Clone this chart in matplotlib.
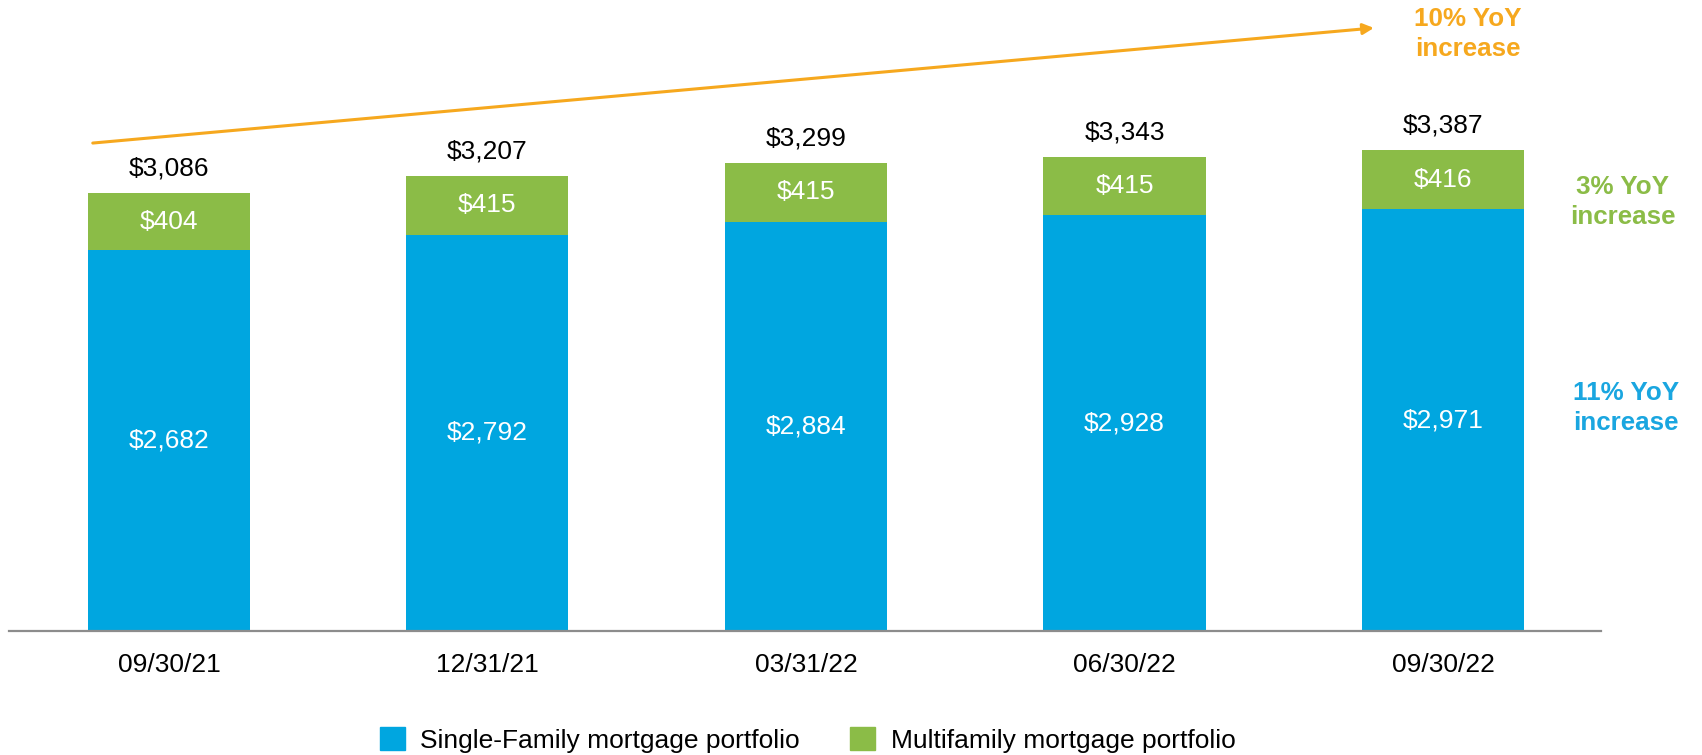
import matplotlib
matplotlib.use("Agg")
import matplotlib.pyplot as plt
import numpy as np
from matplotlib.patches import Patch

plt.rcParams['font.family'] = ['Liberation Sans', 'DejaVu Sans']

dates = ["09/30/21", "12/31/21", "03/31/22", "06/30/22", "09/30/22"]
single_family = [2682, 2792, 2884, 2928, 2971]
multifamily = [404, 415, 415, 415, 416]
totals = [3086, 3207, 3299, 3343, 3387]

blue = '#00A6E0'
green = '#8BBC47'
orange = '#F6A81E'

fig = plt.figure(figsize=(17.02, 7.55), dpi=100)
ax = fig.add_axes([9 / 1702, 124 / 755, (1601 - 9) / 1702, 631 / 755])

x = np.arange(len(dates))
w = 0.509
ax.bar(x, single_family, width=w, color=blue, zorder=2)
ax.bar(x, multifamily, width=w, bottom=single_family, color=green, zorder=2)

for i in range(len(dates)):
    ax.text(x[i], single_family[i] / 2, "${:,}".format(single_family[i]),
            ha='center', va='center', color='white', fontsize=19)
    ax.text(x[i], single_family[i] + multifamily[i] / 2, "${:,}".format(multifamily[i]),
            ha='center', va='center', color='white', fontsize=19)
    ax.annotate("${:,}".format(totals[i]), (x[i], totals[i]), xytext=(0, 17.5),
                textcoords='offset points', ha='center', va='center',
                color='black', fontsize=19)

ax.set_xlim(-0.502, 4.496)
ax.set_ylim(0, 4446)
for s in ['top', 'right', 'left']:
    ax.spines[s].set_visible(False)
ax.spines['bottom'].set_color('#8c8c8c')
ax.spines['bottom'].set_linewidth(1.6)
ax.set_yticks([])
ax.set_xticks(x)
ax.set_xticklabels(dates, fontsize=19)
ax.tick_params(axis='x', length=0, pad=16)

# growth arrow
ax.annotate("", xy=(3.783, 4249), xytext=(-0.239, 3438),
            arrowprops=dict(arrowstyle='-|>', color=orange, lw=2.2,
                            mutation_scale=16, shrinkA=0, shrinkB=0),
            annotation_clip=False)

fig.text(1468 / 1702, 1 - 34 / 755, "10% YoY\nincrease", ha='center', va='center',
         color=orange, fontsize=18.7, fontweight='bold', linespacing=1.3)
fig.text(1623 / 1702, 1 - 202 / 755, "3% YoY\nincrease", ha='center', va='center',
         color=green, fontsize=18.7, fontweight='bold', linespacing=1.3)
fig.text(1626 / 1702, 1 - 408 / 755, "11% YoY\nincrease", ha='center', va='center',
         color='#1AA6E0', fontsize=18.7, fontweight='bold', linespacing=1.3)

handles = [Patch(color=blue, label="Single-Family mortgage portfolio"),
           Patch(color=green, label="Multifamily mortgage portfolio")]
fig.legend(handles=handles, loc='center', bbox_to_anchor=(807.5 / 1702, 15 / 755),
           ncol=2, frameon=False, fontsize=19, handlelength=0.95, handleheight=0.95,
           handletextpad=0.57, columnspacing=1.93, borderpad=0)

plt.savefig('out.png', dpi=100)
